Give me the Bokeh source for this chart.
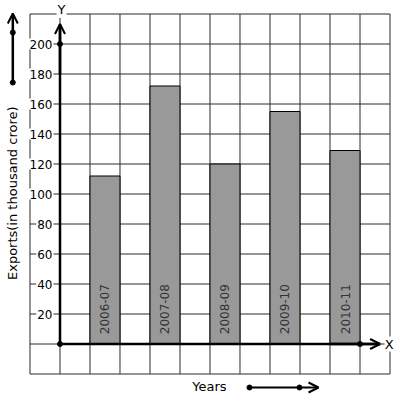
from bokeh.plotting import figure
from bokeh.models import Range1d, Arrow, OpenHead, ColumnDataSource
from bokeh.core.properties import value
from bokeh.embed import file_html
from bokeh.resources import INLINE
import math

# ---- data ----
years = ["2006-07", "2007-08", "2008-09", "2009-10", "2010-11"]
exports = [112, 172, 120, 155, 129]
y_ticks = [20, 40, 60, 80, 100, 120, 140, 160, 180, 200]
y_tick_labels = ["20", "40", "60", "80", "100", "120", "140", "160", "180", "200"]
grid_y = [-20, 0, 20, 40, 60, 80, 100, 120, 140, 160, 180, 200, 220]
grid_x = [-1, 0, 1, 2, 3, 4, 5, 6, 7, 8, 9, 10, 11]

FONT = "DejaVu Sans"

p = figure(width=397, height=399, output_backend="svg", toolbar_location=None,
           x_range=Range1d(-1.98333, 11.25), y_range=Range1d(-37.0, 229.0),
           x_axis_type=None, y_axis_type=None, min_border=0)
p.outline_line_color = None
p.xgrid.visible = False
p.ygrid.visible = False

GRID_C = "#2a2a2a"
# grid lines
p.segment(x0=[grid_x[0]] * len(grid_y), x1=[grid_x[-1]] * len(grid_y), y0=grid_y, y1=grid_y,
          line_color=GRID_C, line_width=1)
p.segment(x0=grid_x, x1=grid_x, y0=[grid_y[0]] * len(grid_x), y1=[grid_y[-1]] * len(grid_x),
          line_color=GRID_C, line_width=1)

# bars
xs = [1.5 + 2 * i for i in range(len(years))]
src = ColumnDataSource(dict(x=xs, top=exports, year=years))
p.vbar(x="x", top="top", bottom=0, width=1, source=src,
       fill_color="#999999", line_color="black", line_width=1)

# bar labels (rotated)
p.text(x="x", y=6.5, text="year", source=src, angle=math.pi / 2,
       text_align="left", text_baseline="middle", text_font=value(FONT),
       text_font_size="12px", text_color="#333333")

# axes
p.segment(x0=[0], y0=[0], x1=[10.65], y1=[0], line_color="black", line_width=2.5)
p.segment(x0=[0], y0=[0], x1=[0], y1=[213], line_color="black", line_width=2.5)
p.add_layout(Arrow(end=OpenHead(size=10, line_width=2, line_color="black"),
                   x_start=0, y_start=180, x_end=0, y_end=213.3,
                   line_width=2.5, line_color="black"))
p.add_layout(Arrow(end=OpenHead(size=10, line_width=2, line_color="black"),
                   x_start=9, y_start=0, x_end=10.67, y_end=0,
                   line_width=2.5, line_color="black"))
p.scatter(x=[0, 0, 10], y=[0, 200, 0], size=5, color="black")

# tick labels
p.text(x=-0.2167, y=y_ticks, text=y_tick_labels, text_align="right", text_baseline="middle",
       text_font=value(FONT), text_font_size="12px", text_color="black",
       background_fill_color="white", padding=1)

# axis letters
p.text(x=[0.05], y=[223.0], text=["Y"], text_align="center", text_baseline="middle",
       text_font=value(FONT), text_font_size="13px", text_color="black",
       background_fill_color="white", padding=1)
p.text(x=[10.97], y=[0], text=["X"], text_align="center", text_baseline="middle",
       text_font=value(FONT), text_font_size="13px", text_color="black",
       background_fill_color="white", padding=0)

# y title with arrow
p.text(x=[-1.573], y=[100.5], text=["Exports(in thousand crore)"], angle=math.pi / 2,
       text_align="center", text_baseline="middle",
       text_font=value(FONT), text_font_size="13px", text_color="black")
p.add_layout(Arrow(end=OpenHead(size=10, line_width=2, line_color="black"),
                   x_start=-1.573, y_start=174.3, x_end=-1.573, y_end=220.3,
                   line_width=2.5, line_color="black"))
p.scatter(x=[-1.573, -1.573], y=[174.3, 207.7], size=5, color="black")

# x title with arrow
p.text(x=[4.983], y=[-28.0], text=["Years"], text_align="center", text_baseline="middle",
       text_font=value(FONT), text_font_size="13px", text_color="black")
p.add_layout(Arrow(end=OpenHead(size=10, line_width=2, line_color="black"),
                   x_start=6.317, y_start=-29.0, x_end=8.617, y_end=-29.0,
                   line_width=2, line_color="black"))
p.scatter(x=[6.317, 7.983], y=[-29.0, -29.0], size=5, color="black")

open("out.html", "w").write(file_html(p, INLINE))
